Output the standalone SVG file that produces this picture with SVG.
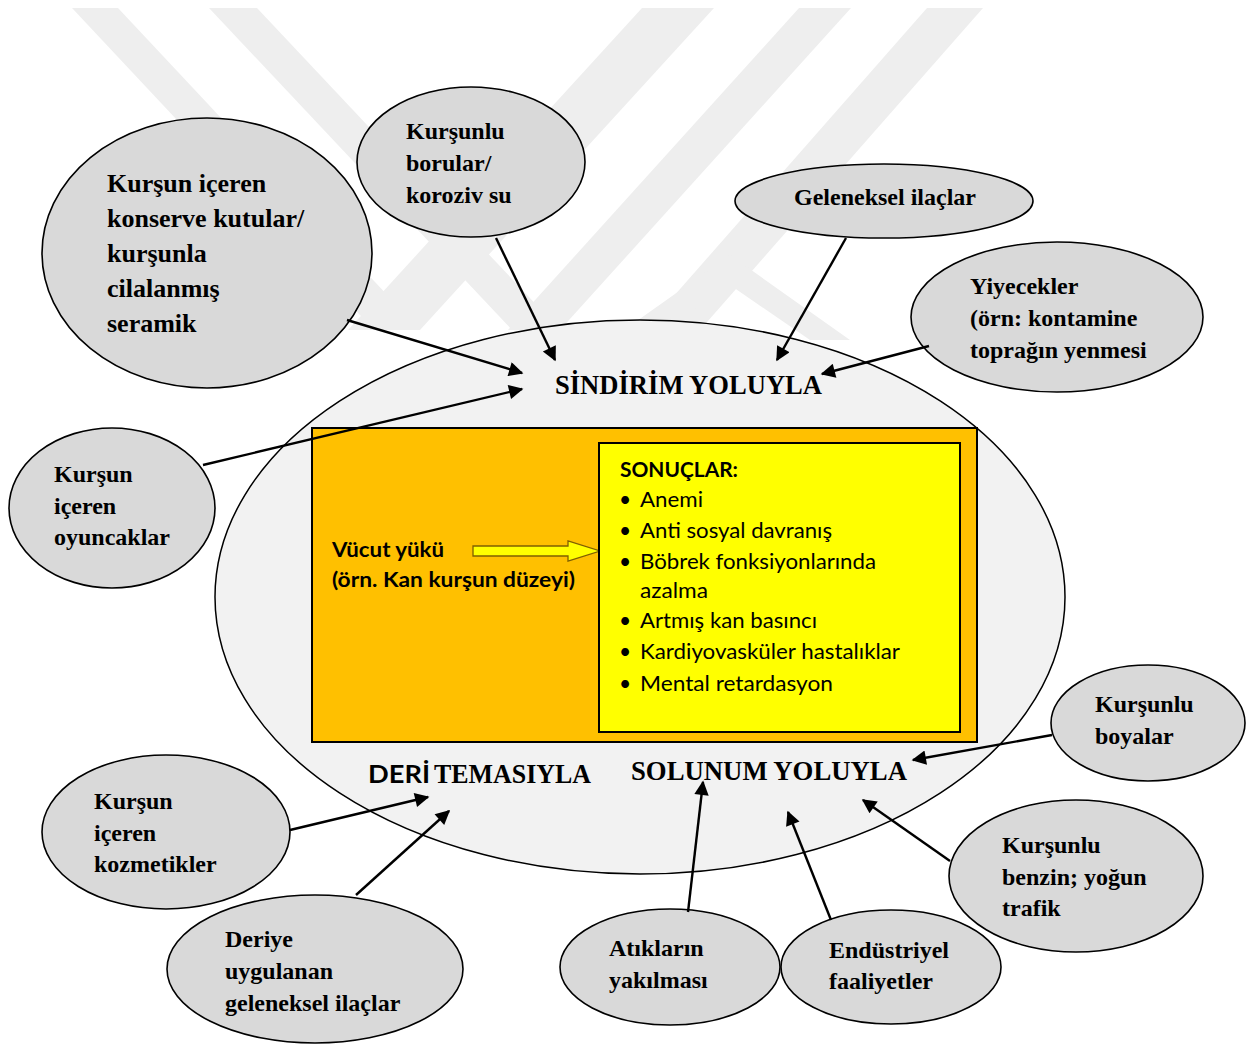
<svg xmlns="http://www.w3.org/2000/svg" width="1260" height="1045" viewBox="0 0 1260 1045">
<defs>
<style>
.node{fill:#d9d9d9;stroke:#000;stroke-width:1.6}
.conn line{stroke:#000;stroke-width:2.4;marker-end:url(#ah)}
.wm{fill:#eeeeee}
</style>
<marker id="ah" viewBox="0 0 10 10" refX="9" refY="5" markerWidth="7" markerHeight="6" markerUnits="strokeWidth" orient="auto">
<path d="M0,0 L10,5 L0,10 z" fill="#000"/>
</marker>
</defs>
<rect width="1260" height="1045" fill="#fff"/>
<g id="watermark" class="wm">
<polygon points="72,8 118,8 420,330 374,330"/>
<polygon points="209,8 257,8 560,330 512,330"/>
<polygon points="642,8 714,8 420,330 348,330"/>
<polygon points="799,8 851,8 560,330 508,330"/>
<polygon points="927,8 983,8 700,330 644,330"/>
<polygon points="730,255 850,340 810,340 730,285 650,340 610,340"/>
</g>
<g id="body">
<ellipse cx="640" cy="597" rx="425" ry="277" fill="#f2f2f2" stroke="#000" stroke-width="1.5"/>
<rect x="312" y="428" width="665" height="314" fill="#ffc000" stroke="#000" stroke-width="2"/>
<g font-family="'Liberation Serif','Times New Roman',serif" font-weight="bold" font-size="27">
<text x="555" y="394" textLength="267" lengthAdjust="spacingAndGlyphs">SİNDİRİM YOLUYLA</text>
<text x="434" y="783" textLength="157" lengthAdjust="spacingAndGlyphs">TEMASIYLA</text>
<text x="631" y="780" textLength="276" lengthAdjust="spacingAndGlyphs">SOLUNUM YOLUYLA</text>
</g>
<text x="368" y="783" font-family="Lato,'Open Sans',sans-serif" font-weight="bold" font-size="24" textLength="62" lengthAdjust="spacingAndGlyphs">DERİ</text>
</g>
<g id="vucut" font-family="Lato,'Open Sans',sans-serif" font-size="21" font-weight="bold">
<text x="332" y="557" textLength="112" lengthAdjust="spacingAndGlyphs">Vücut yükü</text>
<text x="332" y="587" textLength="243" lengthAdjust="spacingAndGlyphs">(örn. Kan kurşun düzeyi)</text>
<polygon points="473,546 568,546 568,541 600,551 568,561 568,556 473,556" fill="#ffff00" stroke="#7f6000" stroke-width="1.3"/>
</g>
<g id="sonuclar" font-family="Lato,'Open Sans',sans-serif" font-size="21">
<rect x="599" y="443" width="361" height="289" fill="#ffff00" stroke="#000" stroke-width="2"/>
<text x="620" y="477" font-weight="bold" textLength="118" lengthAdjust="spacingAndGlyphs">SONUÇLAR:</text>
<text x="619" y="507">•</text><text x="640" y="507" textLength="63" lengthAdjust="spacingAndGlyphs">Anemi</text>
<text x="619" y="538">•</text><text x="640" y="538" textLength="192" lengthAdjust="spacingAndGlyphs">Anti sosyal davranış</text>
<text x="619" y="569">•</text><text x="640" y="569" textLength="236" lengthAdjust="spacingAndGlyphs">Böbrek fonksiyonlarında</text>
<text x="640" y="598" textLength="68" lengthAdjust="spacingAndGlyphs">azalma</text>
<text x="619" y="628">•</text><text x="640" y="628" textLength="177" lengthAdjust="spacingAndGlyphs">Artmış kan basıncı</text>
<text x="619" y="659">•</text><text x="640" y="659" textLength="260" lengthAdjust="spacingAndGlyphs">Kardiyovasküler hastalıklar</text>
<text x="619" y="691">•</text><text x="640" y="691" textLength="193" lengthAdjust="spacingAndGlyphs">Mental retardasyon</text>
</g>
<g font-family="'Liberation Serif','Times New Roman',serif" font-weight="bold" font-size="24">
<g id="n-konserve" font-size="26">
<ellipse class="node" cx="207" cy="253" rx="165" ry="135"/>
<text x="107" y="192">Kurşun içeren</text>
<text x="107" y="227">konserve kutular/</text>
<text x="107" y="262">kurşunla</text>
<text x="107" y="297">cilalanmış</text>
<text x="107" y="332">seramik</text>
</g>
<g id="n-borular">
<ellipse class="node" cx="471" cy="162" rx="114" ry="75"/>
<text x="406" y="139">Kurşunlu</text>
<text x="406" y="171">borular/</text>
<text x="406" y="203">koroziv su</text>
</g>
<g id="n-geleneksel">
<ellipse class="node" cx="884" cy="201" rx="149" ry="37"/>
<text x="885" y="205" text-anchor="middle">Geleneksel ilaçlar</text>
</g>
<g id="n-yiyecekler">
<ellipse class="node" cx="1057" cy="317" rx="146" ry="75"/>
<text x="970" y="294">Yiyecekler</text>
<text x="970" y="326">(örn: kontamine</text>
<text x="970" y="358">toprağın yenmesi</text>
</g>
<g id="n-oyuncaklar">
<ellipse class="node" cx="112" cy="508" rx="103" ry="80"/>
<text x="54" y="482">Kurşun</text>
<text x="54" y="514">içeren</text>
<text x="54" y="545">oyuncaklar</text>
</g>
<g id="n-boyalar">
<ellipse class="node" cx="1148" cy="723" rx="97" ry="58"/>
<text x="1095" y="712">Kurşunlu</text>
<text x="1095" y="744">boyalar</text>
</g>
<g id="n-kozmetikler">
<ellipse class="node" cx="166" cy="832" rx="124" ry="77"/>
<text x="94" y="809">Kurşun</text>
<text x="94" y="841">içeren</text>
<text x="94" y="872">kozmetikler</text>
</g>
<g id="n-deriye">
<ellipse class="node" cx="315" cy="969" rx="148" ry="74"/>
<text x="225" y="947">Deriye</text>
<text x="225" y="979">uygulanan</text>
<text x="225" y="1011">geleneksel ilaçlar</text>
</g>
<g id="n-atiklar">
<ellipse class="node" cx="670" cy="967" rx="110" ry="58"/>
<text x="609" y="956">Atıkların</text>
<text x="609" y="988">yakılması</text>
</g>
<g id="n-endustriyel">
<ellipse class="node" cx="891" cy="967" rx="110" ry="57"/>
<text x="829" y="958">Endüstriyel</text>
<text x="829" y="989">faaliyetler</text>
</g>
<g id="n-benzin">
<ellipse class="node" cx="1076" cy="876" rx="127" ry="76"/>
<text x="1002" y="853">Kurşunlu</text>
<text x="1002" y="885">benzin; yoğun</text>
<text x="1002" y="916">trafik</text>
</g>
</g>
<g id="connectors" class="conn">
<line x1="347" y1="320" x2="522" y2="373"/>
<line x1="203" y1="465" x2="522" y2="389"/>
<line x1="496" y1="238" x2="555" y2="360"/>
<line x1="846" y1="238" x2="777" y2="360"/>
<line x1="929" y1="346" x2="822" y2="374"/>
<line x1="290" y1="830" x2="428" y2="797"/>
<line x1="356" y1="895" x2="449" y2="811"/>
<line x1="688" y1="912" x2="703" y2="782"/>
<line x1="831" y1="920" x2="788" y2="812"/>
<line x1="950" y1="861" x2="863" y2="800"/>
<line x1="1052" y1="735" x2="913" y2="760"/>
</g>
</svg>
